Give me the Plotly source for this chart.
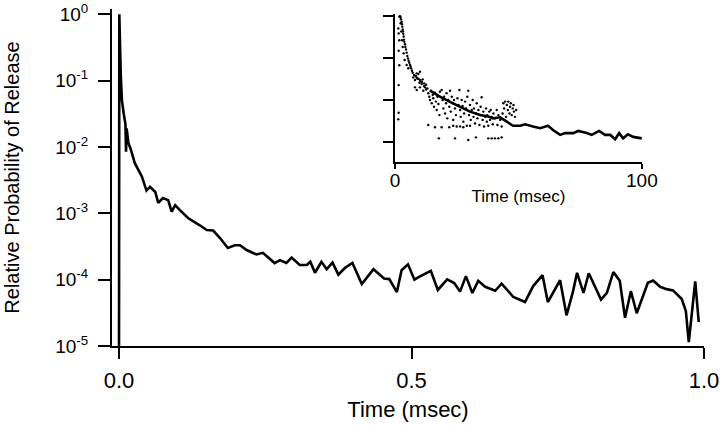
import plotly.graph_objects as go

# ---- main trace: relative probability of release vs time ----
main_t = [0.0, 0.0005, 0.003, 0.005, 0.008, 0.011, 0.012, 0.013, 0.016, 0.020, 0.027, 0.039,
          0.047, 0.053, 0.062, 0.067, 0.075, 0.084, 0.090, 0.096, 0.104, 0.118, 0.138, 0.150,
          0.161, 0.173, 0.186, 0.198, 0.207, 0.218, 0.235, 0.246, 0.266, 0.275, 0.286, 0.295,
          0.309, 0.321, 0.327, 0.335, 0.346, 0.355, 0.365, 0.375, 0.386, 0.399, 0.415, 0.435,
          0.453, 0.462, 0.475, 0.483, 0.494, 0.505, 0.513, 0.533, 0.545, 0.561, 0.573, 0.583,
          0.593, 0.604, 0.614, 0.626, 0.643, 0.654, 0.674, 0.694, 0.708, 0.724, 0.733, 0.754,
          0.765, 0.776, 0.783, 0.794, 0.803, 0.824, 0.834, 0.845, 0.856, 0.865, 0.875, 0.885,
          0.904, 0.913, 0.925, 0.936, 0.947, 0.962, 0.969, 0.974, 0.985, 0.991]
main_v = [1.0e-5, 1.0, 0.12, 0.05, 0.032, 0.022, 0.0085, 0.019, 0.0115, 0.0093, 0.0057, 0.0036,
          0.0022, 0.0025, 0.0021, 0.00144, 0.0017, 0.00158, 0.00106, 0.00133, 0.00112, 0.00085, 0.00066, 0.00056,
          0.00055, 0.00042, 0.00030, 0.00033, 0.00033, 0.00028, 0.00024, 0.000254, 0.000178, 0.000197, 0.000178, 0.000215,
          0.000166, 0.000166, 0.000186, 0.000127, 0.000186, 0.000144, 0.000181, 0.000119, 0.00015, 0.000179, 0.000086, 0.000144,
          0.000104, 0.000102, 0.000065, 0.000139, 0.00017, 0.0001, 0.00011, 0.000136, 0.00007, 0.000101, 0.000089, 0.000066,
          0.000113, 0.000063, 0.000096, 0.000078, 0.000068, 0.000087, 0.000055, 0.000046, 0.00008, 0.000117, 0.000046, 0.000098,
          0.000029, 0.000066, 0.000127, 0.000063, 0.000125, 0.00005, 0.000063, 0.00013, 0.000096, 0.0000267, 0.000067, 0.0000312,
          0.00009, 0.000097, 0.000078, 0.000072, 0.000069, 0.000051, 0.0000335, 0.0000114, 0.000094, 0.000023]

# ---- inset: smoothed curve ----
inset_line_t = [14.2, 18.2, 22.3, 26.4, 30.4, 34.5, 37.7, 39.7, 42.6, 45.3, 47.8, 50.7, 52.7, 55.9,
                58.8, 62.0, 64.0, 66.9, 68.9, 72.2, 74.2, 77.7, 79.7, 82.7, 85.1, 87.2, 89.2, 90.8,
                92.4, 94.4, 96.5, 100.0]
inset_line_v = [0.0164, 0.0118, 0.0089, 0.0068, 0.0052, 0.0043, 0.0040, 0.0036, 0.0038, 0.0030, 0.0024,
                0.0024, 0.0026, 0.0023, 0.0021, 0.0024, 0.0019, 0.00145, 0.0016, 0.0016, 0.0018, 0.0016,
                0.00145, 0.0018, 0.00145, 0.00145, 0.00114, 0.0016, 0.0012, 0.0015, 0.0013, 0.0012]

# ---- inset: individual measurements (dots) ----
inset_dot_t = [
    1.76, 2.03, 2.30, 2.43, 2.70, 2.84, 2.97, 3.11, 3.24, 3.38, 3.51, 3.65, 3.78, 4.05, 4.19, 4.46,
    4.73, 5.0, 5.27, 5.54, 5.81, 6.08, 6.35, 6.62, 6.89, 7.16, 7.70, 8.24, 8.78, 9.46, 10.1, 10.9, 11.8, 12.6,
    1.35, 1.49, 1.76, 1.49, 1.76, 1.49, 1.49, 1.35,
    2.3, 2.57, 2.84, 3.11, 3.51, 3.92, 4.73, 5.4,
    7.4, 8.1, 8.5, 9.1, 9.5, 9.9, 10.4, 10.8, 11.2, 11.8, 12.2, 12.6, 8.8, 8.1, 10.1, 11.5, 8.8, 10.1,
    13.1, 13.5, 13.9, 14.2, 14.5, 14.9, 15.3, 15.5, 15.8, 16.2, 16.6, 16.9, 17.2, 17.6, 18.0, 18.2, 13.5, 16.2,
    18.9, 19.3, 19.6, 19.9, 20.3, 20.7, 20.9, 21.2, 21.6, 22.0, 22.3, 22.6, 23.0, 23.4, 23.6, 23.9, 24.3, 24.7,
    25.0, 18.9, 22.0, 23.6,
    25.3, 25.7, 26.1, 26.4, 26.6, 27.0, 27.4, 27.7, 28.0, 28.4, 28.8, 29.1, 29.3, 29.7, 30.0, 30.4, 30.7, 31.1,
    31.5, 31.8, 26.4, 27.7, 30.4,
    32.0, 32.4, 32.8, 33.1, 33.4, 33.8, 34.2, 34.5, 34.7, 35.1, 35.5, 35.8, 36.1, 36.5, 36.9, 37.2, 37.4, 37.8,
    38.2, 38.5, 38.8, 39.2, 39.6, 39.9,
    40.5, 41.2, 41.5, 41.9, 42.6, 43.2, 43.6, 43.9, 44.2, 44.6, 45.0, 45.3, 45.7, 45.9, 46.4, 46.6, 46.9, 47.3,
    47.7, 48.0, 48.2, 48.6, 49.1,
    17.8, 24.3, 29.7, 32.8, 37.8, 39.2, 40.5, 41.9, 43.2]
inset_dot_v = [
    0.95, 0.98, 0.91, 0.82, 0.72, 0.63, 0.55, 0.47, 0.42, 0.37, 0.32, 0.27, 0.24, 0.21, 0.18, 0.158,
    0.132, 0.110, 0.096, 0.085, 0.076, 0.067, 0.061, 0.055, 0.049, 0.044, 0.039, 0.037, 0.034, 0.0316, 0.0294, 0.0268, 0.0245, 0.0228,
    0.50, 0.38, 0.26, 0.147, 0.066, 0.0223, 0.0049, 0.0034,
    0.66, 0.42, 0.26, 0.18, 0.127, 0.088, 0.067, 0.056,
    0.034, 0.0294, 0.0366, 0.0316, 0.0408, 0.0254, 0.0273, 0.0236, 0.0305, 0.0212, 0.0197, 0.0176, 0.0170, 0.0197, 0.0197, 0.0164, 0.0424, 0.0464,
    0.0186, 0.0142, 0.0118, 0.0098, 0.0164, 0.0082, 0.0129, 0.0108, 0.0068, 0.0147, 0.0090, 0.0057, 0.0118, 0.0079, 0.0043, 0.0155, 0.0025, 0.0022,
    0.0170, 0.0098, 0.0062, 0.0118, 0.0047, 0.0082, 0.0142, 0.0036, 0.0098, 0.0068, 0.0164, 0.0052, 0.0118, 0.0082, 0.0033, 0.0098, 0.0062, 0.0043,
    0.0023, 0.0022, 0.0022, 0.0024,
    0.0108, 0.0075, 0.0170, 0.0057, 0.0039, 0.0098, 0.0071, 0.0030, 0.0047, 0.0090, 0.0062, 0.0024, 0.0118, 0.0164, 0.0043, 0.0075, 0.0033, 0.0057,
    0.0098, 0.0039, 0.0023, 0.0022, 0.0024,
    0.0062, 0.0027, 0.0047, 0.0082, 0.0036, 0.0057, 0.0025, 0.0043, 0.0068, 0.0114, 0.0033, 0.0052, 0.0023, 0.0039, 0.0062, 0.0030, 0.0043, 0.0024,
    0.0052, 0.0033, 0.0057, 0.0039, 0.0026, 0.0047,
    0.0036, 0.0057, 0.0025, 0.0043, 0.0033, 0.0023, 0.0047, 0.0082, 0.0062, 0.0090, 0.0039, 0.0075, 0.0057, 0.0090, 0.0047, 0.0068, 0.0082, 0.0043,
    0.0062, 0.0075, 0.0052, 0.0039, 0.0057,
    0.0012, 0.0012, 0.0011, 0.00127, 0.0012, 0.0012, 0.0012, 0.0012, 0.00127]

main_xticks = [0.0, 0.5, 1.0]
main_xticktext = ["0.0", "0.5", "1.0"]
main_yticks = [1, 1e-1, 1e-2, 1e-3, 1e-4, 1e-5]
main_yticktext = ["10<sup>0</sup>", "10<sup>-1</sup>", "10<sup>-2</sup>",
                  "10<sup>-3</sup>", "10<sup>-4</sup>", "10<sup>-5</sup>"]
inset_xticks = [0, 100]
inset_xticktext = ["0", "100"]
inset_yticks = [1, 1e-1, 1e-2, 1e-3]

FONT = "Liberation Sans, Arial, Helvetica, sans-serif"

fig = go.Figure()
fig.add_trace(go.Scatter(x=main_t, y=main_v, mode="lines",
                         line=dict(color="black", width=2.6), xaxis="x", yaxis="y"))
fig.add_trace(go.Scatter(x=inset_dot_t, y=inset_dot_v, mode="markers",
                         marker=dict(color="black", size=2.4), xaxis="x2", yaxis="y2"))
fig.add_trace(go.Scatter(x=inset_line_t, y=inset_line_v, mode="lines",
                         line=dict(color="black", width=2.6), xaxis="x2", yaxis="y2"))

axis_common = dict(showline=True, linecolor="black", linewidth=2, ticks="outside",
                   tickcolor="black", tickwidth=2, showgrid=False, zeroline=False,
                   mirror=False, automargin=False)

fig.update_layout(
    width=720, height=426,
    margin=dict(l=112, r=16, t=9, b=80),
    paper_bgcolor="white", plot_bgcolor="white",
    showlegend=False,
    font=dict(family=FONT, color="black"),
    xaxis=dict(**axis_common, range=[-0.012, 1.0], tickvals=main_xticks, ticktext=main_xticktext,
               ticklen=11, tickfont=dict(size=22), ticklabelstandoff=3,
               title=dict(text="Time (msec)", font=dict(size=22), standoff=9),
               domain=[0, 1], anchor="y"),
    yaxis=dict(**axis_common, type="log", range=[-5, 0.08], tickvals=main_yticks,
               ticktext=main_yticktext, ticklen=12, tickfont=dict(size=19), ticklabelstandoff=6,
               title=dict(text="Relative Probability of Release", font=dict(size=20), standoff=30),
               domain=[0, 1], anchor="x"),
    xaxis2=dict(**axis_common, range=[0, 100], tickvals=inset_xticks, ticktext=inset_xticktext,
                ticklen=5, tickfont=dict(size=19), ticklabelstandoff=-4,
                title=dict(text="Time (msec)", font=dict(size=17), standoff=0),
                domain=[0.478, 0.895], anchor="y2"),
    yaxis2=dict(**axis_common, type="log", range=[-3.476, 0.04], tickvals=inset_yticks,
                showticklabels=False, ticklen=10,
                domain=[0.547, 0.985], anchor="x2"),
)

fig.write_html("out.html", config={"displayModeBar": False},
               post_script="document.body.style.margin='0';document.body.style.overflow='hidden';")
